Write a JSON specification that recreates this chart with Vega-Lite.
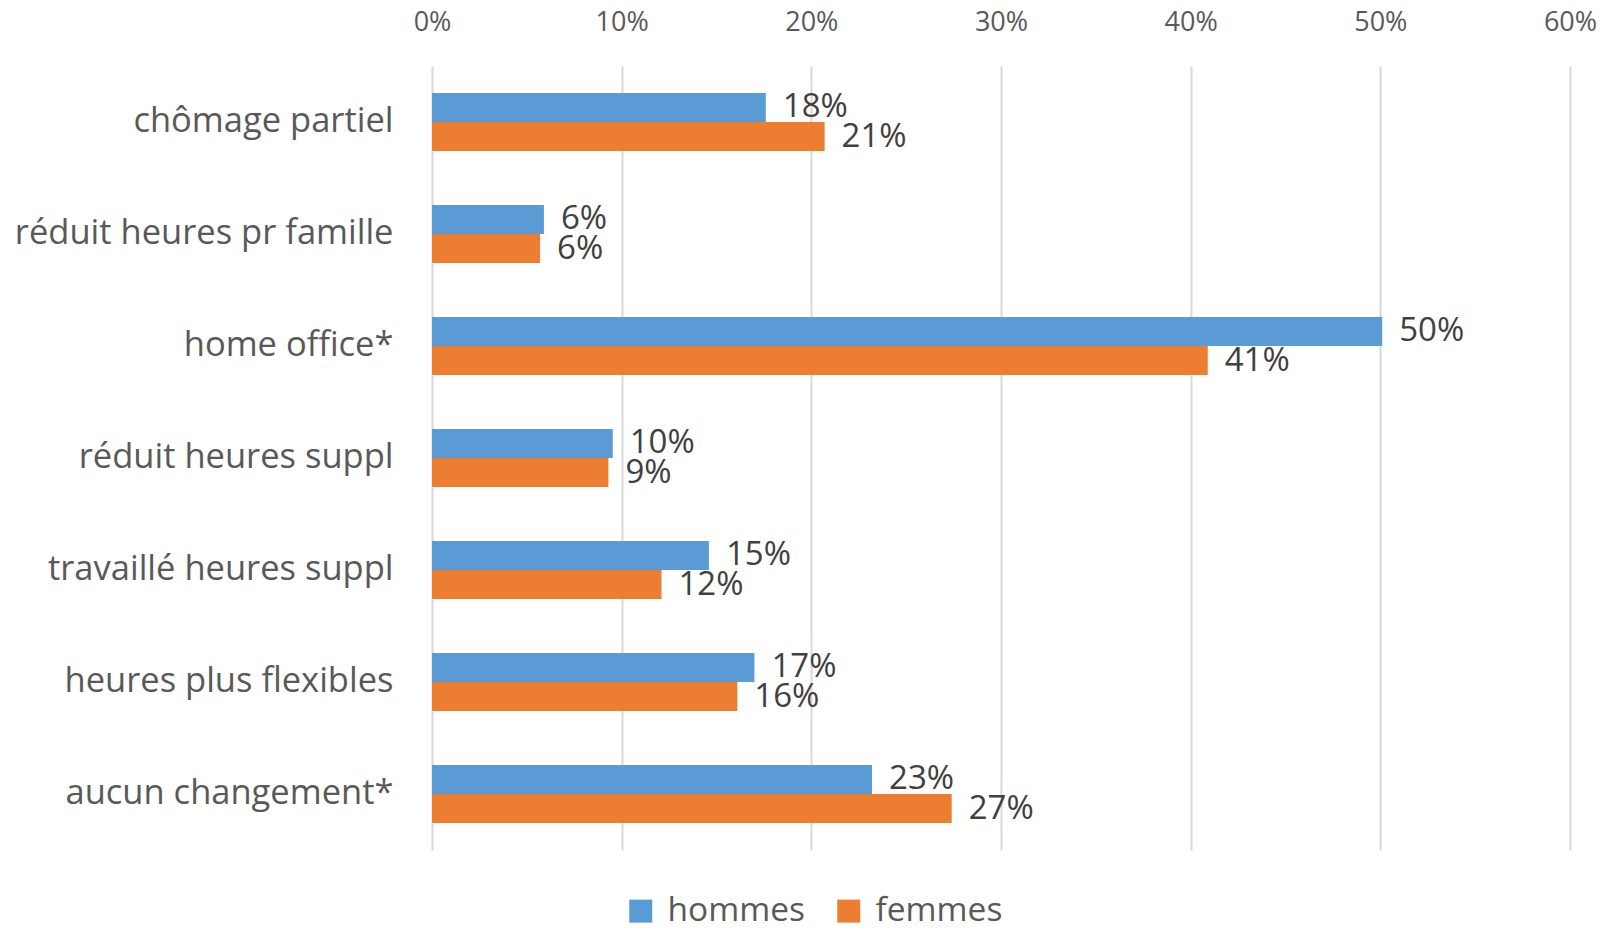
{
  "$schema": "https://vega.github.io/schema/vega-lite/v6.json",
  "autosize": "none",
  "width": 1138,
  "height": 784,
  "padding": {"left": 432, "top": 66, "right": 40, "bottom": 78},
  "background": "white",
  "config": {
    "view": {"stroke": null},
    "font": "Open Sans"
  },
  "data": {
    "values": [
      {"categorie": "chômage partiel", "sexe": "hommes", "valeur": 0.176},
      {"categorie": "chômage partiel", "sexe": "femmes", "valeur": 0.207},
      {"categorie": "réduit heures pr famille", "sexe": "hommes", "valeur": 0.059},
      {"categorie": "réduit heures pr famille", "sexe": "femmes", "valeur": 0.057},
      {"categorie": "home office*", "sexe": "hommes", "valeur": 0.501},
      {"categorie": "home office*", "sexe": "femmes", "valeur": 0.409},
      {"categorie": "réduit heures suppl", "sexe": "hommes", "valeur": 0.0953},
      {"categorie": "réduit heures suppl", "sexe": "femmes", "valeur": 0.093},
      {"categorie": "travaillé heures suppl", "sexe": "hommes", "valeur": 0.146},
      {"categorie": "travaillé heures suppl", "sexe": "femmes", "valeur": 0.121},
      {"categorie": "heures plus flexibles", "sexe": "hommes", "valeur": 0.17},
      {"categorie": "heures plus flexibles", "sexe": "femmes", "valeur": 0.161},
      {"categorie": "aucun changement*", "sexe": "hommes", "valeur": 0.232},
      {"categorie": "aucun changement*", "sexe": "femmes", "valeur": 0.274}
    ]
  },
  "encoding": {
    "y": {
      "field": "categorie",
      "type": "nominal",
      "sort": null,
      "scale": {"paddingInner": 0.482, "paddingOuter": 0.241},
      "axis": {
        "title": null,
        "domain": false,
        "ticks": false,
        "labelPadding": 39,
        "labelFontSize": 34.5,
        "labelColor": "#595959",
        "labelFont": "Open Sans",
        "labelLimit": 500
      }
    },
    "yOffset": {
      "field": "sexe",
      "type": "nominal",
      "sort": ["hommes", "femmes"],
      "scale": {"paddingInner": 0, "paddingOuter": 0}
    },
    "x": {
      "field": "valeur",
      "type": "quantitative",
      "scale": {"domain": [0, 0.6], "nice": false},
      "axis": {
        "orient": "top",
        "title": null,
        "format": ".0%",
        "values": [0, 0.1, 0.2, 0.3, 0.4, 0.5, 0.6],
        "domain": false,
        "ticks": false,
        "grid": true,
        "gridColor": "#d9d9d9",
        "gridWidth": 2,
        "labelPadding": 30,
        "labelFontSize": 27,
        "labelColor": "#595959",
        "labelFont": "Open Sans",
        "labelFlush": false
      }
    }
  },
  "layer": [
    {
      "mark": {"type": "bar"},
      "encoding": {
        "color": {
          "field": "sexe",
          "type": "nominal",
          "sort": ["hommes", "femmes"],
          "scale": {"domain": ["hommes", "femmes"], "range": ["#5B9BD5", "#ED7D31"]},
          "legend": {
            "title": null,
            "orient": "none",
            "direction": "horizontal",
            "legendX": 192,
            "legendY": 828,
            "symbolType": "square",
            "symbolSize": 529,
            "symbolStrokeWidth": 0,
            "symbolOpacity": 1,
            "labelFontSize": 33.5,
            "labelColor": "#595959",
            "labelFont": "Open Sans",
            "columnPadding": 26,
            "labelOffset": 10
          }
        }
      }
    },
    {
      "mark": {"type": "text", "align": "left", "baseline": "middle", "dx": 17, "fontSize": 33, "color": "#404040", "font": "Open Sans"},
      "encoding": {
        "text": {"field": "valeur", "type": "quantitative", "format": ".0%"}
      }
    }
  ]
}
